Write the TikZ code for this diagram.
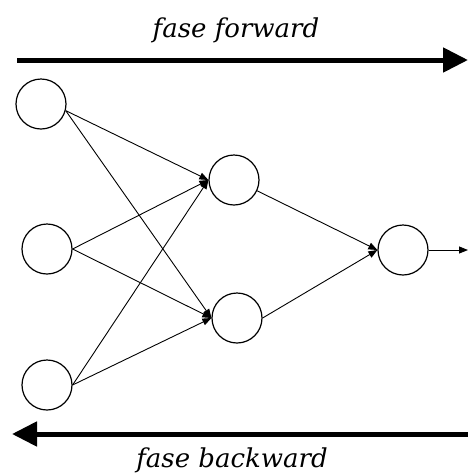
\documentclass[tikz,border=0pt]{standalone}
\usepackage{fontspec}
\newfontfamily\labfont{DejaVu Serif}
\usetikzlibrary{arrows.meta}
\begin{document}
\begin{tikzpicture}[x=1pt,y=-1pt,
  neuron/.style={circle,draw,line width=1.2pt,minimum size=50pt,inner sep=0pt},
  conn/.style={line width=0.9pt,-{Triangle[length=9pt,width=7pt]}},
  phase/.style={line width=5pt,-{Triangle[length=25pt,width=24pt]}},
  lab/.style={font=\labfont\itshape\fontsize{26}{30}\selectfont,inner sep=0pt}]
\useasboundingbox (0,0) rectangle (468,475);
\node[neuron] (i1) at (41,104) {};
\node[neuron] (i2) at (47,249) {};
\node[neuron] (i3) at (47,385) {};
\node[neuron] (h1) at (234,180) {};
\node[neuron] (h2) at (237,318) {};
\node[neuron] (o)  at (403,250) {};
\coordinate (out) at (468,250);
\coordinate (fs) at (17,60);
\coordinate (fe) at (468,60);
\coordinate (bs) at (468,434);
\coordinate (be) at (12,434);
\draw[conn] (i1.-15) -- (h1.west);
\draw[conn] (i1.-15) -- (h2.west);
\foreach \a in {i2,i3}{
  \draw[conn] (\a.east) -- (h1.west);
  \draw[conn] (\a.east) -- (h2.west);
}
\draw[conn] (h1.-25) -- (o.west);
\draw[conn] (h2.east) -- (o.west);
\draw[conn] (o.east) -- (out);
\draw[phase] (fs) -- (fe);
\draw[phase] (bs) -- (be);
\node[lab] (tf) at (236,30) {fase forward};
\node[lab] (tb) at (232,460) {fase backward};
\end{tikzpicture}
\end{document}
